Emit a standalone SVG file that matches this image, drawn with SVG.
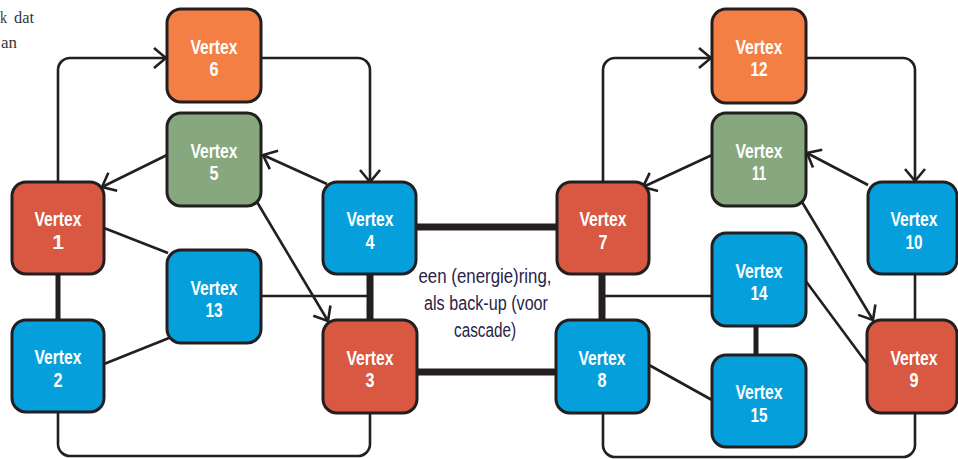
<svg xmlns="http://www.w3.org/2000/svg" width="958" height="459" viewBox="0 0 958 459">
<style>
.n rect{stroke:#231f20;stroke-width:3}
.red{fill:#d95842}.org{fill:#f47f44}.grn{fill:#87a77e}.blu{fill:#05a0dc}
.n text{font-family:"Liberation Sans",Arial,sans-serif;font-size:21px;font-weight:bold;fill:#fff;text-anchor:middle}
.c path,.c line{stroke:#231f20;fill:none}
.t{stroke-width:2.6}
.k{stroke-width:7}
.m{stroke-width:5}
.lbl{font-family:"Liberation Sans",Arial,sans-serif;font-size:20px;fill:#29234a;text-anchor:middle}
.top{font-family:"Liberation Serif","Times New Roman",serif;font-size:17px;fill:#34343c}
</style>
<defs>
<marker id="a" viewBox="0 0 14 22" refX="13" refY="11" markerWidth="14" markerHeight="22" markerUnits="userSpaceOnUse" orient="auto">
<path d="M1,1 L13,11 L1,21" fill="none" stroke="#231f20" stroke-width="2.6"/>
</marker>
</defs>
<text class="top" y="23"><tspan x="0" textLength="7" lengthAdjust="spacingAndGlyphs">k</tspan> <tspan x="14" textLength="20" lengthAdjust="spacingAndGlyphs">dat</tspan></text>
<text class="top" x="1" y="48" textLength="16" lengthAdjust="spacingAndGlyphs">an</text>
<g class="c" id="connectors">
<path class="t" d="M58,182 V70 A12,12 0 0 1 70,58 H166" marker-end="url(#a)"/>
<path class="t" d="M261,58 H358 A12,12 0 0 1 370,70 V182" marker-end="url(#a)"/>
<path class="t" d="M58,412 V444 A12,12 0 0 0 70,456 H358 A12,12 0 0 0 370,444 V413"/>
<path class="t" d="M603,183 V70 A12,12 0 0 1 615,58 H711" marker-end="url(#a)"/>
<path class="t" d="M806,58 H903 A12,12 0 0 1 915,70 V181" marker-end="url(#a)"/>
<path class="t" d="M603,413 V445 A12,12 0 0 0 615,457 H903 A12,12 0 0 0 915,445 V413"/>
<line class="t" x1="327" y1="184" x2="263" y2="155" marker-end="url(#a)"/>
<line class="t" x1="167" y1="155" x2="102" y2="187" marker-end="url(#a)"/>
<line class="t" x1="257" y1="202" x2="328" y2="321" marker-end="url(#a)"/>
<line class="t" x1="104" y1="228" x2="168" y2="253"/>
<line class="t" x1="104" y1="364" x2="169" y2="338"/>
<line class="t" x1="261" y1="296" x2="370" y2="296"/>
<line class="m" x1="58" y1="274" x2="58" y2="320"/>
<line class="k" x1="370" y1="274" x2="370" y2="320"/>
<line class="k" x1="416" y1="227" x2="557" y2="227"/>
<line class="k" x1="417" y1="372" x2="556" y2="372"/>
<line class="k" x1="602" y1="274" x2="602" y2="320"/>
<line class="t" x1="602" y1="296" x2="712" y2="296"/>
<line class="t" x1="649" y1="365" x2="712" y2="400"/>
<line class="m" x1="756" y1="326" x2="756" y2="355"/>
<line class="t" x1="805" y1="280" x2="868" y2="365"/>
<line class="t" x1="802" y1="202" x2="873" y2="320" marker-end="url(#a)"/>
<line class="t" x1="915" y1="274" x2="915" y2="320"/>
<line class="t" x1="868" y1="185" x2="807" y2="153" marker-end="url(#a)"/>
<line class="t" x1="712" y1="155" x2="643" y2="187" marker-end="url(#a)"/>
</g>
<g class="n" id="v1"><rect class="red" x="12" y="182" width="92" height="92" rx="14"/><text x="58" y="226" textLength="47" lengthAdjust="spacingAndGlyphs">Vertex</text><text x="58" y="249">1</text></g>
<g class="n" id="v2"><rect class="blu" x="12" y="320" width="92" height="92" rx="14"/><text x="58" y="364" textLength="47" lengthAdjust="spacingAndGlyphs">Vertex</text><text x="58" y="387" textLength="9" lengthAdjust="spacingAndGlyphs">2</text></g>
<g class="n" id="v6"><rect class="org" x="167" y="9" width="94" height="93" rx="14"/><text x="214" y="54" textLength="47" lengthAdjust="spacingAndGlyphs">Vertex</text><text x="214" y="76" textLength="9" lengthAdjust="spacingAndGlyphs">6</text></g>
<g class="n" id="v5"><rect class="grn" x="167" y="113" width="94" height="93" rx="14"/><text x="214" y="158" textLength="47" lengthAdjust="spacingAndGlyphs">Vertex</text><text x="214" y="180" textLength="9" lengthAdjust="spacingAndGlyphs">5</text></g>
<g class="n" id="v13"><rect class="blu" x="167" y="250" width="94" height="93" rx="14"/><text x="214" y="295" textLength="47" lengthAdjust="spacingAndGlyphs">Vertex</text><text x="214" y="317" textLength="17" lengthAdjust="spacingAndGlyphs">13</text></g>
<g class="n" id="v4"><rect class="blu" x="323" y="182" width="93" height="92" rx="14"/><text x="370" y="226" textLength="47" lengthAdjust="spacingAndGlyphs">Vertex</text><text x="370" y="249" textLength="9" lengthAdjust="spacingAndGlyphs">4</text></g>
<g class="n" id="v3"><rect class="red" x="323" y="320" width="94" height="93" rx="14"/><text x="370" y="365" textLength="47" lengthAdjust="spacingAndGlyphs">Vertex</text><text x="370" y="387" textLength="9" lengthAdjust="spacingAndGlyphs">3</text></g>
<g class="n" id="v7"><rect class="red" x="557" y="182" width="92" height="92" rx="14"/><text x="603" y="226" textLength="47" lengthAdjust="spacingAndGlyphs">Vertex</text><text x="603" y="249" textLength="9" lengthAdjust="spacingAndGlyphs">7</text></g>
<g class="n" id="v8"><rect class="blu" x="556" y="320" width="93" height="93" rx="14"/><text x="602" y="365" textLength="47" lengthAdjust="spacingAndGlyphs">Vertex</text><text x="602" y="387" textLength="9" lengthAdjust="spacingAndGlyphs">8</text></g>
<g class="n" id="v12"><rect class="org" x="712" y="9" width="94" height="94" rx="14"/><text x="759" y="54" textLength="47" lengthAdjust="spacingAndGlyphs">Vertex</text><text x="759" y="76" textLength="17" lengthAdjust="spacingAndGlyphs">12</text></g>
<g class="n" id="v11"><rect class="grn" x="712" y="113" width="94" height="93" rx="14"/><text x="759" y="158" textLength="47" lengthAdjust="spacingAndGlyphs">Vertex</text><text x="759" y="180" textLength="14" lengthAdjust="spacingAndGlyphs">11</text></g>
<g class="n" id="v14"><rect class="blu" x="712" y="233" width="94" height="93" rx="14"/><text x="759" y="278" textLength="47" lengthAdjust="spacingAndGlyphs">Vertex</text><text x="759" y="300" textLength="17" lengthAdjust="spacingAndGlyphs">14</text></g>
<g class="n" id="v15"><rect class="blu" x="712" y="355" width="94" height="92" rx="14"/><text x="759" y="399" textLength="47" lengthAdjust="spacingAndGlyphs">Vertex</text><text x="759" y="422" textLength="17" lengthAdjust="spacingAndGlyphs">15</text></g>
<g class="n" id="v10"><rect class="blu" x="868" y="182" width="89" height="92" rx="14"/><text x="914" y="226" textLength="47" lengthAdjust="spacingAndGlyphs">Vertex</text><text x="914" y="249" textLength="17" lengthAdjust="spacingAndGlyphs">10</text></g>
<g class="n" id="v9"><rect class="red" x="867" y="320" width="90" height="93" rx="14"/><text x="914" y="365" textLength="47" lengthAdjust="spacingAndGlyphs">Vertex</text><text x="914" y="387" textLength="9" lengthAdjust="spacingAndGlyphs">9</text></g>
<g id="label">
<text class="lbl" x="485" y="283" textLength="133" lengthAdjust="spacingAndGlyphs">een (energie)ring,</text>
<text class="lbl" x="486" y="310" textLength="124" lengthAdjust="spacingAndGlyphs">als back-up (voor</text>
<text class="lbl" x="485" y="337" textLength="62" lengthAdjust="spacingAndGlyphs">cascade)</text>
</g>
</svg>
